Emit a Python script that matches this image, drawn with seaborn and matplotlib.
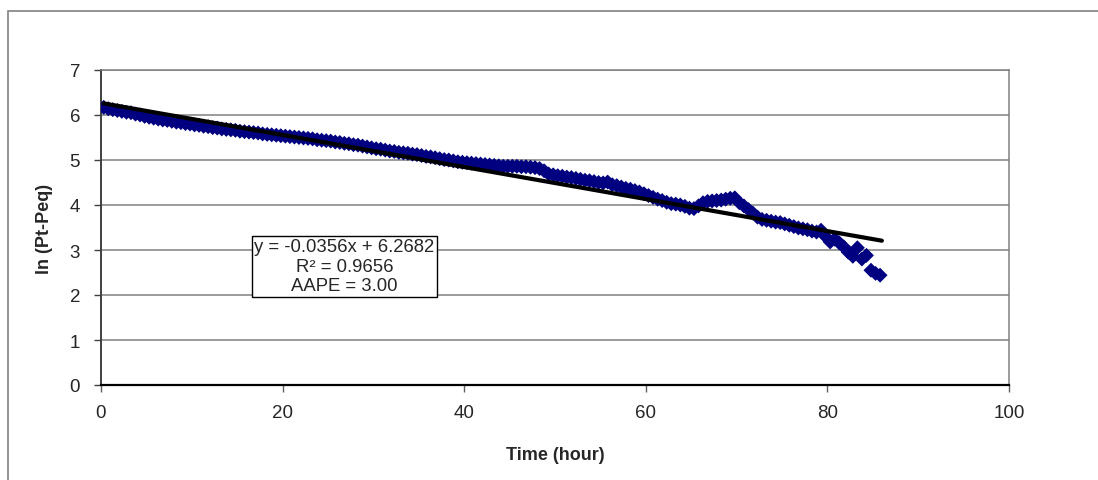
import numpy as np
import pandas as pd
import matplotlib
matplotlib.use("Agg")
import matplotlib.pyplot as plt
from matplotlib.patches import Rectangle
import seaborn as sns

# ---- data ----
ln_dp = [
    6.17, 6.14, 6.12, 6.10, 6.08, 6.06, 6.05, 6.02, 6.00, 5.97,
    5.95, 5.93, 5.91, 5.89, 5.88, 5.86, 5.84, 5.83, 5.81, 5.80,
    5.78, 5.77, 5.75, 5.74, 5.72, 5.71, 5.69, 5.68, 5.67, 5.66,
    5.64, 5.63, 5.62, 5.61, 5.60, 5.58, 5.57, 5.56, 5.55, 5.54,
    5.53, 5.52, 5.51, 5.50, 5.49, 5.48, 5.47, 5.45, 5.44, 5.43,
    5.42, 5.40, 5.39, 5.37, 5.36, 5.34, 5.33, 5.31, 5.29, 5.27,
    5.25, 5.24, 5.22, 5.20, 5.19, 5.17, 5.16, 5.15, 5.13, 5.12,
    5.10, 5.08, 5.07, 5.05, 5.03, 5.01, 5.00, 4.98, 4.96, 4.95,
    4.94, 4.93, 4.92, 4.91, 4.90, 4.89, 4.88, 4.87, 4.86, 4.86,
    4.86, 4.86, 4.85, 4.85, 4.84, 4.83, 4.81, 4.76, 4.69, 4.67,
    4.65, 4.64, 4.62, 4.61, 4.59, 4.57, 4.55, 4.54, 4.52, 4.50,
    4.49, 4.51, 4.45, 4.43, 4.40, 4.37, 4.35, 4.32, 4.29, 4.25,
    4.21, 4.17, 4.13, 4.10, 4.06, 4.03, 4.02, 4.00, 3.97, 3.93,
    3.92, 3.98, 4.05, 4.08, 4.09, 4.10, 4.11, 4.13, 4.15, 4.16,
    4.05, 3.98, 3.90, 3.82, 3.73, 3.68, 3.66, 3.64, 3.62, 3.61,
    3.58, 3.55, 3.52, 3.49, 3.47, 3.45, 3.42, 3.40, 3.44, 3.30,
    3.18, 3.24, 3.16, 3.07, 2.95, 2.86, 3.05, 2.80, 2.88, 2.55,
    2.48, 2.44,
]
time_start = 0.3
time_step = 0.5
time_h = np.round(time_start + time_step * np.arange(len(ln_dp)), 2)

trend_slope = -0.0356
trend_intercept = 6.2682
trend_x_range = [0.3, 86.0]

annotation_lines = ["y = -0.0356x + 6.2682", "R\u00b2 = 0.9656", "AAPE = 3.00"]
x_ticks = [0, 20, 40, 60, 80, 100]
y_ticks = [0, 1, 2, 3, 4, 5, 6, 7]
x_label = "Time (hour)"
y_label = "ln (Pt-Peq)"

# ---- drawing ----
sns.set_style("white")
plt.rcParams["font.family"] = ["Liberation Sans", "DejaVu Sans"]

fig = plt.figure(figsize=(10.98, 4.81), dpi=100)
ax = fig.add_axes([101 / 1098, 1 - 386 / 481, (1009 - 101) / 1098, (386 - 71) / 481])

df = pd.DataFrame({"time": time_h, "lnp": ln_dp})
sns.scatterplot(data=df, x="time", y="lnp", ax=ax, marker="D", s=58,
                color="#000080", edgecolor="none", linewidth=0, zorder=3)

tx = np.array(trend_x_range)
trend_df = pd.DataFrame({"time": tx, "fit": trend_slope * tx + trend_intercept})
sns.lineplot(data=trend_df, x="time", y="fit", ax=ax, color="black",
             linewidth=3.0, zorder=4)

ax.set_xlim(x_ticks[0], x_ticks[-1])
ax.set_ylim(y_ticks[0], y_ticks[-1])
ax.set_xticks(x_ticks)
ax.set_yticks(y_ticks)
ax.grid(axis="y", color="#808080", linewidth=1.1, zorder=0)
ax.grid(axis="x", visible=False)
ax.set_axisbelow(True)

for side in ["top", "right"]:
    ax.spines[side].set_color("#808080")
    ax.spines[side].set_linewidth(1.1)
ax.spines["left"].set_color("#404040")
ax.spines["left"].set_linewidth(1.4)
ax.spines["bottom"].set_color("black")
ax.spines["bottom"].set_linewidth(1.6)

ax.tick_params(axis="x", direction="out", length=5, width=1, color="#606060",
               labelsize=13.5, pad=9, bottom=True)
ax.tick_params(axis="y", direction="out", length=5, width=1, color="#404040",
               labelsize=13.5, pad=10, left=True)

ax.set_xlabel(x_label, fontsize=13, fontweight="bold", labelpad=18)
ax.set_ylabel(y_label, fontsize=13, fontweight="bold", labelpad=12)

ax.text(26.8, 2.64, "\n".join(annotation_lines), ha="center", va="center",
        fontsize=13.3, zorder=5,
        bbox=dict(boxstyle="square,pad=0.12", facecolor="white",
                  edgecolor="black", linewidth=1))

# outer chart-area border (cut off at right and bottom)
fig.patches.append(Rectangle((8 / 1098, -0.2), 1.2, 1 - 12 / 481 + 0.2,
                             transform=fig.transFigure, fill=False,
                             edgecolor="#808080", linewidth=1.2, clip_on=False))

fig.savefig("out.png", dpi=100)
